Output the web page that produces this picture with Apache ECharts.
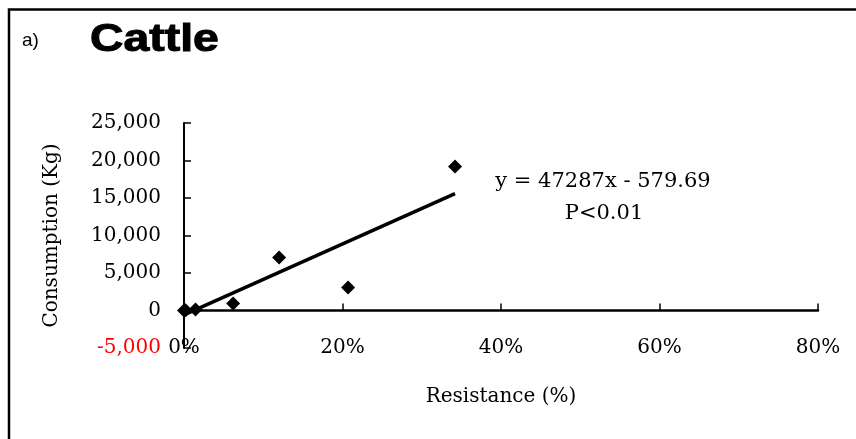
<!DOCTYPE html>
<html>
<head>
<meta charset="utf-8">
<title>Cattle</title>
<script src="https://cdn.jsdelivr.net/npm/echarts@6/dist/echarts.min.js"></script>
<style>
  html, body { margin: 0; padding: 0; background: #fff; }
  #chart { width: 856px; height: 439px; }
</style>
</head>
<body>
<div id="chart"></div>
<script>
// resistance (fraction) and consumption (kg) for each point
const resistance = [0, 0.002, 0.0145, 0.062, 0.12, 0.207, 0.342];
const consumption = [0, 30, 150, 930, 7070, 3070, 19200];
// trend line ends, y = 47287x - 579.69
const trendX = [0, 0.342];
const trendY = [-580, 15592];
const xTicks = { min: 0, max: 0.8, step: 0.2 };
const yTicks = { min: -5000, max: 25000, step: 5000 };
const equation = 'y = 47287x - 579.69';
const pText = 'P<0.01';

const serif = '"DejaVu Serif", serif';
const black = '#000';

const chart = echarts.init(document.getElementById('chart'));

const points = resistance.map((v, i) => [v, consumption[i]]);
const trend = trendX.map((v, i) => [v, trendY[i]]);

const pct = v => Math.round(v * 100) + '%';

chart.setOption({
  animation: false,
  backgroundColor: '#fff',
  grid: { left: 184, right: 38, top: 123, bottom: 91 },
  xAxis: [
    {
      type: 'value',
      min: xTicks.min,
      max: xTicks.max,
      interval: xTicks.step,
      position: 'bottom',
      axisLine: { show: false, onZero: false },
      axisTick: { show: false },
      splitLine: { show: false },
      axisLabel: {
        formatter: pct,
        color: black,
        fontFamily: serif,
        fontSize: 20,
        margin: 0,
        verticalAlign: 'middle'
      },
      name: 'Resistance (%)',
      nameLocation: 'middle',
      nameGap: 39,
      nameTextStyle: { color: black, fontFamily: serif, fontSize: 20 }
    },
    {
      type: 'value',
      min: xTicks.min,
      max: xTicks.max,
      interval: xTicks.step,
      position: 'bottom',
      axisLine: { show: true, onZero: true, lineStyle: { color: black, width: 2.5 } },
      axisTick: { show: true, inside: true, length: 7, lineStyle: { color: black, width: 1.5 } },
      axisLabel: { show: false },
      splitLine: { show: false }
    }
  ],
  yAxis: {
    type: 'value',
    min: yTicks.min,
    max: yTicks.max,
    interval: yTicks.step,
    axisLine: { show: true, onZero: false, lineStyle: { color: black, width: 2 } },
    axisTick: { show: true, inside: true, length: 7, lineStyle: { color: black, width: 1.5 } },
    splitLine: { show: false },
    axisLabel: {
      formatter: v => Number(v).toLocaleString('en-US'),
      color: v => (Number(v) < 0 ? '#ff0000' : black),
      fontFamily: serif,
      fontSize: 20,
      margin: 23
    },
    name: 'Consumption (Kg)',
    nameLocation: 'middle',
    nameRotate: 90,
    nameGap: 122,
    nameTextStyle: { color: black, fontFamily: serif, fontSize: 20 }
  },
  series: [
    {
      type: 'line',
      data: trend,
      symbol: 'none',
      lineStyle: { color: black, width: 3.5 },
      z: 2
    },
    {
      type: 'scatter',
      data: points,
      symbol: 'diamond',
      symbolSize: 14,
      itemStyle: { color: black, opacity: 1 },
      z: 3
    }
  ],
  graphic: [
    {
      type: 'rect',
      shape: { x: 9, y: 9.5, width: 900, height: 500 },
      style: { fill: 'none', stroke: black, lineWidth: 2.5 },
      silent: true
    },
    {
      type: 'text',
      x: 22,
      y: 41,
      style: {
        text: 'a)',
        font: '19px "Liberation Sans", Arial, sans-serif',
        fill: black,
        textAlign: 'left',
        textVerticalAlign: 'middle'
      }
    },
    {
      type: 'text',
      x: 90,
      y: 41,
      scaleX: 1.22,
      style: {
        text: 'Cattle',
        font: 'bold 38px "Liberation Sans", Arial, sans-serif',
        fill: black,
        stroke: black,
        lineWidth: 1,
        textAlign: 'left',
        textVerticalAlign: 'middle'
      }
    },
    {
      type: 'text',
      x: 603,
      y: 182,
      style: {
        text: equation,
        font: '21px ' + serif,
        fill: black,
        textAlign: 'center',
        textVerticalAlign: 'middle'
      }
    },
    {
      type: 'text',
      x: 604,
      y: 214,
      style: {
        text: pText,
        font: '21px ' + serif,
        fill: black,
        textAlign: 'center',
        textVerticalAlign: 'middle'
      }
    }
  ]
});
</script>
</body>
</html>
